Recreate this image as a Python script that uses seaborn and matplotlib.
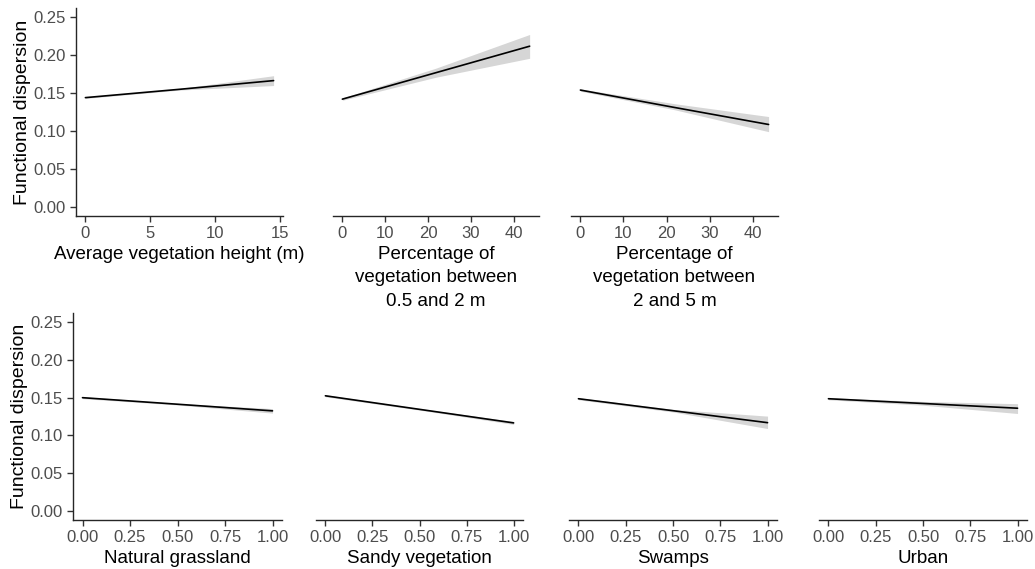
import matplotlib
matplotlib.use("Agg")
import matplotlib.pyplot as plt
import seaborn as sns
import pandas as pd

# panel labels (x axis titles)
labels = [
    "Average vegetation height (m)",
    "Percentage of\nvegetation between\n0.5 and 2 m",
    "Percentage of\nvegetation between\n2 and 5 m",
    "Natural grassland",
    "Sandy vegetation",
    "Swamps",
    "Urban",
]

# x at start / middle / end of each fitted line
x_vals = [
    [0, 7.25, 14.5],
    [0, 21.85, 43.7],
    [0, 21.85, 43.7],
    [0, 0.5, 1],
    [0, 0.5, 1],
    [0, 0.5, 1],
    [0, 0.5, 1],
]

# fitted functional dispersion
fit_vals = [
    [0.144, 0.155, 0.1665],
    [0.142, 0.177, 0.212],
    [0.154, 0.131, 0.1085],
    [0.150, 0.1413, 0.1325],
    [0.1525, 0.1345, 0.1165],
    [0.1486, 0.1327, 0.1168],
    [0.1486, 0.1423, 0.136],
]

# 95% confidence band
lower_vals = [
    [0.1430, 0.1540, 0.1600],
    [0.1405, 0.1710, 0.1960],
    [0.1525, 0.1280, 0.0990],
    [0.1487, 0.1403, 0.1295],
    [0.1512, 0.1335, 0.1145],
    [0.1472, 0.1310, 0.1090],
    [0.1472, 0.1400, 0.1290],
]
upper_vals = [
    [0.1450, 0.1560, 0.1730],
    [0.1435, 0.1830, 0.2275],
    [0.1555, 0.1360, 0.1190],
    [0.1513, 0.1423, 0.1355],
    [0.1538, 0.1355, 0.1185],
    [0.1500, 0.1345, 0.1255],
    [0.1500, 0.1450, 0.1420],
]

y_ticks = [0.00, 0.05, 0.10, 0.15, 0.20, 0.25]
x_ticks = [[0, 5, 10, 15], [0, 10, 20, 30, 40], [0, 10, 20, 30, 40]] + [[0, 0.25, 0.5, 0.75, 1.0]] * 4
x_ticklabels = [None, None, None] + [["0.00", "0.25", "0.50", "0.75", "1.00"]] * 4

sns.set_theme(style="ticks")
plt.rcParams["font.family"] = ["Liberation Sans", "DejaVu Sans"]

W, H = 1035, 569
fig = plt.figure(figsize=(W / 100, H / 100), dpi=100)

# axes boxes in pixels: left, right, top, bottom
boxes = [
    (76, 283, 8, 216),
    (333, 539, 8, 216),
    (571, 778, 8, 216),
    (73, 282, 313, 520),
    (316, 523, 313, 520),
    (569, 777, 313, 520),
    (819, 1027, 313, 520),
]

for i, lab in enumerate(labels):
    l, r, t, b = boxes[i]
    ax = fig.add_axes([l / W, (H - b) / H, (r - l) / W, (b - t) / H])
    df = pd.DataFrame({"x": x_vals[i], "fit": fit_vals[i], "lo": lower_vals[i], "hi": upper_vals[i]})
    ax.fill_between(df["x"], df["lo"], df["hi"], color="#d6d6d6", linewidth=0)
    sns.lineplot(data=df, x="x", y="fit", ax=ax, color="black", linewidth=1.2)

    pad = 0.05 * (df["x"].max() - df["x"].min())
    ax.set_xlim(df["x"].min() - pad, df["x"].max() + pad)
    ax.set_ylim(-0.0125, 0.2625)
    ax.set_xticks(x_ticks[i])
    if x_ticklabels[i] is not None:
        ax.set_xticklabels(x_ticklabels[i])
    ax.set_xlabel(lab, fontsize=13.5, color="black", linespacing=1.5, labelpad=3)

    for s in ["top", "right"]:
        ax.spines[s].set_visible(False)
    ax.spines["bottom"].set_linewidth(1.0)
    ax.spines["left"].set_linewidth(1.0)
    ax.tick_params(axis="both", length=4, width=1.0, color="#333333", labelsize=12,
                   labelcolor="#4d4d4d", pad=3.5)

    if i in (0, 3):
        ax.set_yticks(y_ticks)
        ax.set_yticklabels([f"{v:.2f}" for v in y_ticks])
        ax.set_ylabel("Functional dispersion", fontsize=14, color="black", labelpad=1.5)
    else:
        ax.spines["left"].set_visible(False)
        ax.set_yticks([])
        ax.set_ylabel("")

fig.savefig("out.png", dpi=100, facecolor="white")
